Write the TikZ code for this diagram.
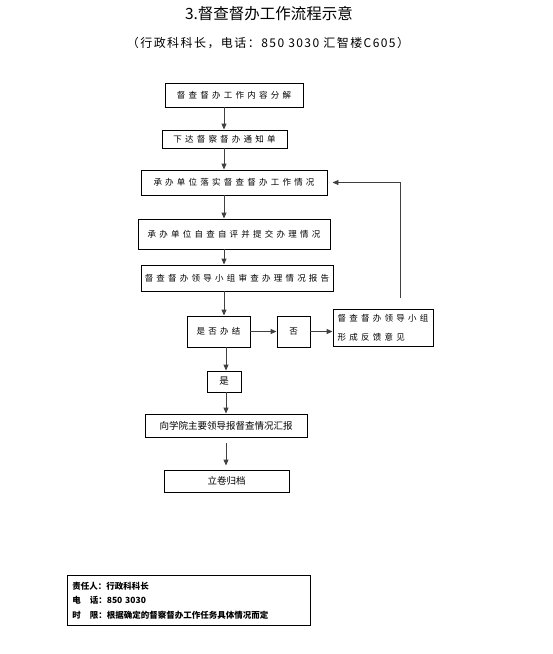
\documentclass[tikz,border=0pt]{standalone}
\usepackage{fontspec}
\setmainfont{Noto Sans CJK SC}
\newfontfamily\cjk{Noto Sans CJK SC}
\newfontfamily\cjksp[LetterSpace=38]{Noto Sans CJK SC}
\newfontfamily\cjksub[LetterSpace=12]{Noto Sans CJK SC}
\usetikzlibrary{arrows.meta}
\tikzset{
  box/.style={draw=black, line width=0.9pt, minimum width=#1, inner sep=0pt, align=center},
  lbl/.style={font=\cjksp\fontsize{8.5}{18}\selectfont},
  plain/.style={font=\cjk\fontsize{9.5}{12}\selectfont},
  arr/.style={draw=black!75, line width=0.9pt, -{Triangle[length=6pt,width=5pt]}},
}
\begin{document}
\begin{tikzpicture}[x=1pt,y=-1pt]
\useasboundingbox (0,0) rectangle (553,654);
\node[font=\cjk\fontsize{15.5}{18}\selectfont] (title) at (269,14) {3.督查督办工作流程示意};
\node[font=\cjksub\fontsize{12}{14}\selectfont] (sub) at (268,43) {（行政科科长，电话：850 3030 汇智楼C605）};

\node[box=138pt, minimum height=24pt, lbl] (b1) at (234,95) {督查督办工作内容分解};
\node[box=125pt, minimum height=18pt, lbl] (b2) at (224.5,139) {下达督察督办通知单};
\node[box=186pt, minimum height=25pt, lbl] (b3) at (234,182.5) {承办单位落实督查督办工作情况};
\node[box=192pt, minimum height=30pt, lbl] (b4) at (234,234) {承办单位自查自评并提交办理情况};
\node[box=192pt, minimum height=26pt, lbl] (b5) at (237,278) {督查督办领导小组审查办理情况报告};
\node[box=63pt, minimum height=31pt, lbl] (b6) at (218.5,331.5) {是否办结};
\node[box=33pt, minimum height=31pt, lbl] (b7) at (293.5,331.5) {否};
\node[box=100pt, minimum height=37pt, lbl, align=left, font=\cjksp\fontsize{8.5}{19}\selectfont] (b8) at (383,328) {督查督办领导小组\\形成反馈意见};
\node[box=34pt, minimum height=21pt, plain] (b9) at (224,381.5) {是};
\node[box=162pt, minimum height=23pt, plain] (b10) at (226,425.5) {向学院主要领导报督查情况汇报};
\node[box=125pt, minimum height=22pt, plain] (b11) at (226.5,481) {立卷归档};

\node[box=243pt, minimum height=50pt, anchor=north west, align=left, font=\cjk\bfseries\fontsize{8.5}{14.5}\selectfont, text width=233pt] (resp) at (67,575)
{责任人：行政科科长\\电\hspace{1.05em}话：850 3030\\时\hspace{1.05em}限：根据确定的督察督办工作任务具体情况而定};

\coordinate (xl) at (224,0);
\draw[arr] (b1.south -| xl) -- (b2.north -| xl);
\draw[arr] (b2.south -| xl) -- (b3.north -| xl);
\draw[arr] (b3.south -| xl) -- (b4.north -| xl);
\draw[arr] (b4.south -| xl) -- (b5.north -| xl);
\draw[arr] (b5.south -| xl) -- (b6.north -| xl);
\coordinate (xm) at (226,0);
\draw[arr] (b6.south -| xm) -- (b9.north -| xm);
\draw[arr] (b9.south -| xm) -- (b10.north -| xm);
\draw[arr, shorten <=6pt, shorten >=4pt] (b10.south -| xm) -- (b11.north -| xm);
\draw[arr] (b6.east) -- (b7.west);
\draw[arr] (b7.east) -- (b8.west |- b7.east);
\coordinate (fb) at (400,298);
\draw[arr, shorten >=5pt] (fb) |- (b3.east);
\end{tikzpicture}
\end{document}
